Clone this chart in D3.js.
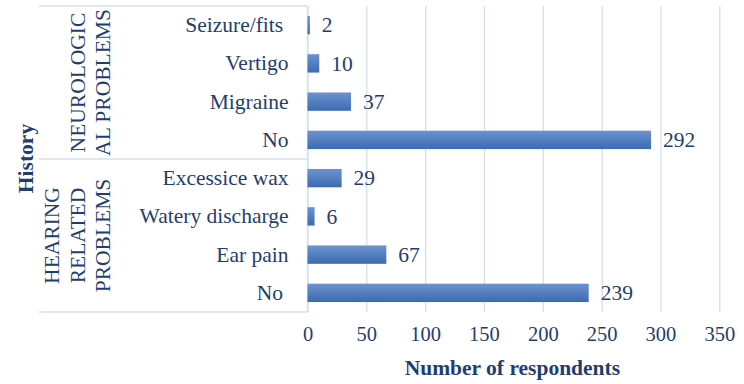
<!DOCTYPE html>
<html>
<head>
<meta charset="utf-8">
<script src="https://cdn.jsdelivr.net/npm/d3@7"></script>
<style>
  html, body { margin: 0; padding: 0; background: #fff; }
  svg { display: block; }
  text { font-family: "Liberation Serif", "Times New Roman", serif; fill: #1f3d70; }
</style>
</head>
<body>
<svg id="chart" width="744" height="384"></svg>
<script>
// ---- data ----
const categories = ["Seizure/fits\u00A0", "Vertigo", "Migraine", "No", "Excessice wax", "Watery discharge", "Ear pain", "No\u00A0"];
const values = [2, 10, 37, 292, 29, 6, 67, 239];
const groupNames = [["NEUROLOGIC", "AL PROBLEMS"], ["HEARING", "RELATED", "PROBLEMS"]];
const groupSizes = [4, 4];
const xTicks = [0, 50, 100, 150, 200, 250, 300, 350];
const xTitle = "Number of respondents";
const yTitle = "History";

// ---- layout ----
const svg = d3.select("#chart");
const plot = { left: 307.5, right: 719.3, top: 6, bottom: 312 };
const labelLeft = 39;
const gridColor = "#d3e0f0";
const fsCat = 21.5, fsVal = 21.5, fsTick = 20.5;

const x = d3.scaleLinear().domain([0, 350]).range([plot.left, plot.right]);
const idx = d3.range(categories.length);
const y = d3.scaleBand().domain(idx).range([plot.top, plot.bottom]).paddingInner(0.52).paddingOuter(0.26);

// gradient
const defs = svg.append("defs");
const grad = defs.append("linearGradient").attr("id", "barGrad").attr("x1", 0).attr("y1", 0).attr("x2", 0).attr("y2", 1);
grad.append("stop").attr("offset", "0%").attr("stop-color", "#6d93cf");
grad.append("stop").attr("offset", "100%").attr("stop-color", "#3b6bb1");

// gridlines via axis
const gx = svg.append("g")
  .attr("transform", `translate(0,${plot.bottom})`)
  .call(d3.axisBottom(x).tickValues(xTicks).tickSize(-(plot.bottom - plot.top)).tickFormat(d => d).tickPadding(18));
gx.select(".domain").remove();
gx.selectAll(".tick line").attr("stroke", gridColor).attr("stroke-width", 1.3);
gx.selectAll(".tick text")
  .style("font-family", '"Liberation Serif", serif')
  .attr("font-size", fsTick).attr("dy", "0.55em");

// category axis frame
svg.append("line").attr("x1", plot.left).attr("x2", plot.left).attr("y1", plot.top).attr("y2", plot.bottom)
  .attr("stroke", gridColor).attr("stroke-width", 1.3);
let cum = 0;
const bounds = [0];
groupSizes.forEach(s => { cum += s; bounds.push(cum); });
const yAt = b => plot.top + (plot.bottom - plot.top) * b / categories.length;
bounds.forEach(b => {
  svg.append("line").attr("x1", labelLeft).attr("x2", plot.left).attr("y1", yAt(b)).attr("y2", yAt(b))
    .attr("stroke", gridColor).attr("stroke-width", 1.3);
});

// bars
svg.append("g").selectAll("rect").data(idx).join("rect")
  .attr("x", x(0)).attr("y", i => y(i))
  .attr("width", i => x(values[i]) - x(0))
  .attr("height", y.bandwidth())
  .attr("fill", "url(#barGrad)");

// value labels
svg.append("g").selectAll("text").data(idx).join("text")
  .attr("x", i => x(values[i]) + 12)
  .attr("y", i => y(i) + y.bandwidth() / 2)
  .attr("dy", "0.34em")
  .attr("font-size", fsVal)
  .text(i => values[i]);

// category labels
svg.append("g").selectAll("text").data(idx).join("text")
  .attr("x", 288.5)
  .attr("y", i => y(i) + y.bandwidth() / 2)
  .attr("dy", "0.33em")
  .attr("text-anchor", "end")
  .attr("font-size", fsCat)
  .style("white-space", "pre")
  .text(i => categories[i]);

// group labels (rotated)
const lastBaseline = 110, lineH = 25.5;
groupNames.forEach((lines, gi) => {
  const cy = (yAt(bounds[gi]) + yAt(bounds[gi + 1])) / 2;
  lines.forEach((ln, li) => {
    const bx = lastBaseline - (lines.length - 1 - li) * lineH;
    svg.append("text")
      .attr("transform", `translate(${bx},${cy}) rotate(-90)`)
      .attr("text-anchor", "middle")
      .attr("font-size", 21.5)
      .text(ln);
  });
});

// axis titles
svg.append("text")
  .attr("transform", `translate(33,158.5) rotate(-90)`)
  .attr("text-anchor", "middle")
  .attr("font-size", 21.5).attr("font-weight", "bold")
  .text(yTitle);

svg.append("text")
  .attr("x", (plot.left + plot.right) / 2 - 1)
  .attr("y", 375)
  .attr("text-anchor", "middle")
  .attr("font-size", 21.5).attr("font-weight", "bold")
  .text(xTitle);
</script>
</body>
</html>
